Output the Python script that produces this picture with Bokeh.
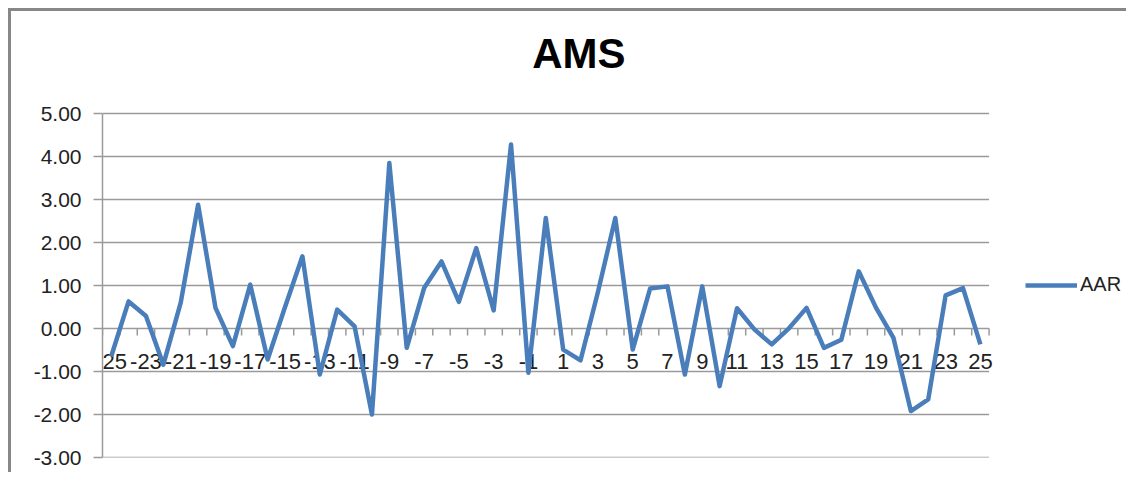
from bokeh.plotting import figure
from bokeh.models import Range1d, FixedTicker, NumeralTickFormatter, Legend, LegendItem, ColumnDataSource, Label
from bokeh.core.properties import value
from bokeh.embed import file_html
from bokeh.resources import INLINE

# ---- data ----
days = list(range(-25, 26))
aar = [-0.65, 0.63, 0.29, -0.84, 0.60, 2.88, 0.48, -0.41, 1.02, -0.72,
       0.50, 1.68, -1.07, 0.44, 0.05, -2.00, 3.85, -0.45, 0.94, 1.56,
       0.62, 1.87, 0.42, 4.28, -1.03, 2.57, -0.49, -0.74, 0.85, 2.57,
       -0.49, 0.93, 0.98, -1.07, 0.98, -1.34, 0.47, -0.02, -0.37, 0.01,
       0.48, -0.45, -0.26, 1.33, 0.48, -0.22, -1.92, -1.65, 0.77, 0.94,
       -0.37]
x_labels = [str(d) for d in days[::2]]
y_ticks = [-3, -2, -1, 0, 1, 2, 3, 4, 5]
series_name = "AAR"
title_text = "AMS"

FONT = "Liberation Sans"
GRID = "#9a9a9a"
BLUE = "#4a7ebb"

PX_X = 17.333   # pixels per category
PX_Y = 43.0     # pixels per y unit
x_lo, x_hi = days[0] - 0.5, days[-1] + 0.5
y_lo, y_hi = y_ticks[0], y_ticks[-1]

# frame widened right (legend room) and up (title room)
p = figure(width=1118, height=464, output_backend="svg", toolbar_location=None,
           x_range=Range1d(x_lo, x_hi + 140 / PX_X),
           y_range=Range1d(y_lo, y_hi + 102 / PX_Y),
           min_border_left=91, min_border_top=0, min_border_bottom=18,
           min_border_right=0)
p.styles = {"margin-left": "8px", "margin-top": "8px",
            "border-top": "3px solid #878787", "border-left": "3px solid #878787"}
p.outline_line_color = None
p.background_fill_color = "white"
p.border_fill_color = "white"

# title, drawn inside the widened frame
p.add_layout(Label(x=x_lo + 475 / PX_X, y=y_hi + 60 / PX_Y, text=title_text,
                   text_align="center", text_baseline="middle",
                   text_font=FONT, text_font_size="42px", text_font_style="bold",
                   text_color="black"))

# axes
p.xaxis.visible = False
p.xgrid.visible = False
p.ygrid.visible = False
p.yaxis.bounds = (y_lo, y_hi)
p.yaxis.ticker = FixedTicker(ticks=y_ticks)
p.yaxis.formatter = NumeralTickFormatter(format="0.00")
p.yaxis.major_label_text_font = FONT
p.yaxis.major_label_text_font_size = "21px"
p.yaxis.major_label_text_color = "#222222"
p.yaxis.axis_line_color = GRID
p.yaxis.axis_line_width = 1.5
p.yaxis.major_tick_line_color = GRID
p.yaxis.major_tick_line_width = 1.5
p.yaxis.major_tick_out = 9
p.yaxis.major_tick_in = 0
p.yaxis.minor_tick_line_color = None
p.yaxis.major_label_standoff = 12

# horizontal gridlines, limited to the category span
p.segment(x0=[x_lo] * len(y_ticks), x1=[x_hi] * len(y_ticks), y0=y_ticks, y1=y_ticks,
          line_color=GRID, line_width=1.5)

# category boundary ticks on the zero line
bounds = [d - 0.5 for d in days] + [x_hi]
p.segment(x0=bounds, x1=bounds, y0=[0] * len(bounds), y1=[-7 / PX_Y] * len(bounds),
          line_color=GRID, line_width=1.5)

# category labels along the zero line
lab_src = ColumnDataSource(dict(x=days[::2], y=[0] * len(x_labels), t=x_labels))
p.text(x="x", y="y", text="t", source=lab_src, text_align="center",
       text_baseline="middle", y_offset=33, text_font=value(FONT),
       text_font_size="22px", text_color="#222222")

r = p.line(days, aar, line_color=BLUE, line_width=4.5, line_join="round")

legend = Legend(items=[LegendItem(label=series_name, renderers=[r])],
                location=(923, 161), orientation="vertical")
legend.margin = 0
legend.padding = 0
legend.border_line_color = None
legend.background_fill_alpha = 0
legend.glyph_width = 52
legend.label_standoff = 3
legend.label_text_font = FONT
legend.label_text_font_size = "20px"
legend.label_text_color = "#222222"
p.add_layout(legend, "center")

open("out.html", "w").write(file_html(p, INLINE))
